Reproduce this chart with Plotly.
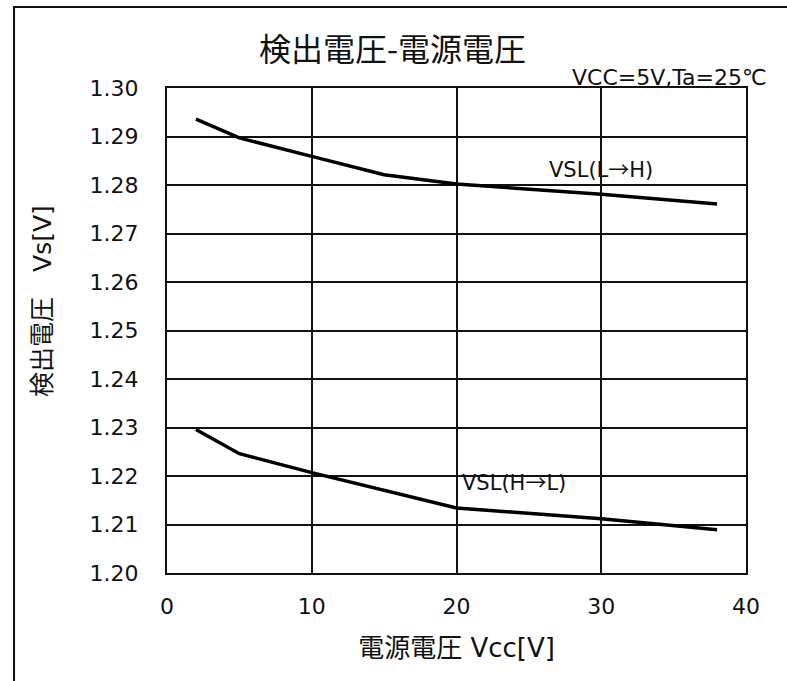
import plotly.graph_objects as go

# Supply voltage Vcc [V]
vcc = [2, 5, 10, 15, 20, 30, 38]
# Detection voltage, rising threshold VSL(L→H) [V]
vsl_lh = [1.2936, 1.2897, 1.2859, 1.2821, 1.2802, 1.2781, 1.2761]
# Detection voltage, falling threshold VSL(H→L) [V]
vsl_hl = [1.2296, 1.2246, 1.2207, 1.2171, 1.2134, 1.2112, 1.2089]

x_ticks = [0, 10, 20, 30, 40]
y_ticks = [1.20, 1.21, 1.22, 1.23, 1.24, 1.25, 1.26, 1.27, 1.28, 1.29, 1.30]

FONT = "DejaVu Sans, Noto Sans CJK JP, sans-serif"
CJK = "Noto Sans CJK JP, DejaVu Sans, sans-serif"
ARROW = '<span style="font-family:Noto Sans CJK JP">→</span>'

fig = go.Figure()
for ys in (vsl_lh, vsl_hl):
    fig.add_trace(go.Scatter(x=vcc, y=ys, mode="lines",
                             line=dict(color="black", width=3.5),
                             showlegend=False, hoverinfo="skip"))

fig.add_annotation(x=30.0, y=1.2836, text=f"VSL(L{ARROW}H)", showarrow=False,
                   font=dict(family=FONT, size=21, color="#111"))
fig.add_annotation(x=24.0, y=1.2190, text=f"VSL(H{ARROW}L)", showarrow=False,
                   font=dict(family=FONT, size=21, color="#111"))
fig.add_annotation(x=1.04, y=1.0, xref="paper", yref="paper",
                   xanchor="right", yanchor="bottom", yshift=-4,
                   text="VCC=5V,Ta=25℃", showarrow=False,
                   font=dict(family=FONT, size=22, color="#111"))
fig.add_annotation(x=0.39, y=1.085, xref="paper", yref="paper",
                   xanchor="center", yanchor="middle",
                   text="検出電圧-電源電圧", showarrow=False,
                   font=dict(family=CJK, size=32, color="#111"))
fig.add_annotation(x=-0.215, y=0.56, xref="paper", yref="paper",
                   xanchor="center", yanchor="middle", textangle=-90,
                   text="検出電圧　Vs[V]", showarrow=False,
                   font=dict(family=FONT, size=25, color="#111"))

# outer frame (left and top edges)
fig.add_shape(type="rect", xref="paper", yref="paper",
              x0=-0.2642, x1=1.5, y0=-0.5, y1=1.167,
              line=dict(color="#111", width=2), fillcolor="rgba(0,0,0,0)",
              layer="below")

fig.update_layout(
    width=787, height=681,
    margin=dict(l=167, r=41, t=88, b=108),
    paper_bgcolor="white", plot_bgcolor="white",
    font=dict(family=FONT, color="#111"),
)
fig.update_xaxes(range=[0, 40], tickvals=x_ticks, showgrid=True,
                 gridcolor="#111", gridwidth=1.5, showline=True,
                 linecolor="#111", linewidth=2, mirror=True, zeroline=False,
                 ticks="", ticklabelstandoff=13,
                 tickfont=dict(family=FONT, size=22, color="#111"),
                 title=dict(text="電源電圧 Vcc[V]", standoff=20,
                            font=dict(family=FONT, size=26, color="#111")))
fig.update_yaxes(range=[1.20, 1.30], tickvals=y_ticks, tickformat=".2f",
                 showgrid=True, gridcolor="#111", gridwidth=1.5,
                 showline=True, linecolor="#111", linewidth=2, mirror=True,
                 zeroline=False, ticks="", ticklabelstandoff=22,
                 tickfont=dict(family=FONT, size=22, color="#111"))

fig.write_html("out.html")
